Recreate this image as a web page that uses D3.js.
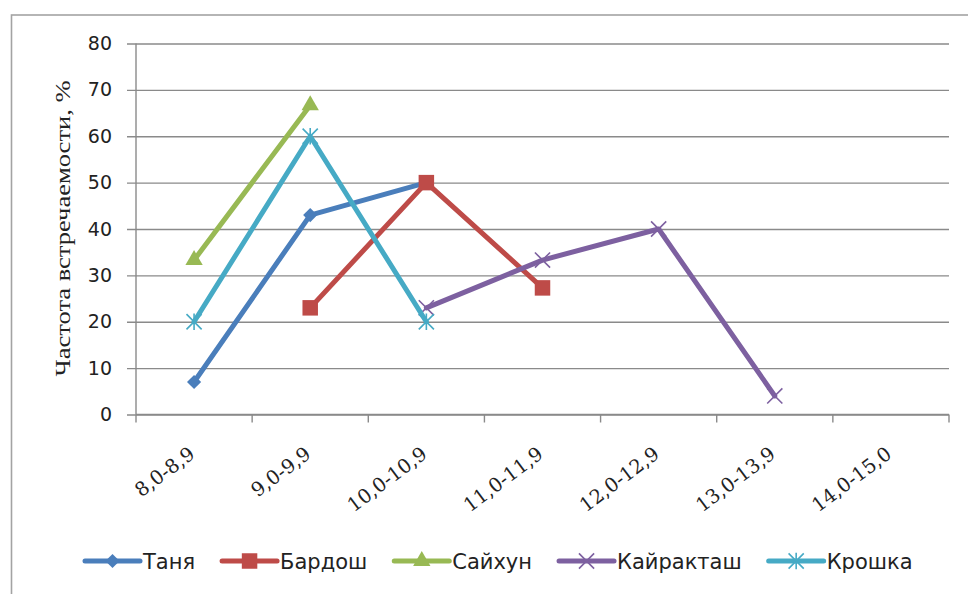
<!DOCTYPE html>
<html>
<head>
<meta charset="utf-8">
<script src="https://cdn.jsdelivr.net/npm/d3@7"></script>
<style>
  html, body { margin: 0; padding: 0; background: #fff; }
  svg { display: block; }
</style>
</head>
<body>
<svg id="chart" width="968" height="594"></svg>
<script>
// categories (length classes, cm)
const categories = ['8,0-8,9', '9,0-9,9', '10,0-10,9', '11,0-11,9', '12,0-12,9', '13,0-13,9', '14,0-15,0'];

// frequency of occurrence, %  (null = no point)
const tanya = [7, 43, 50, null, null, null, null];
const bardosh = [null, 23, 50, 27.3, null, null, null];
const saykhun = [33.3, 66.7, null, null, null, null, null];
const kayraktash = [null, null, 23, 33.3, 40, 4, null];
const kroshka = [20, 60, 20, null, null, null, null];

const seriesNames = ['Таня', 'Бардош', 'Сайхун', 'Кайракташ', 'Крошка'];
const yTicks = [0, 10, 20, 30, 40, 50, 60, 70, 80];
const yTitle = 'Частота встречаемости, %';

// custom excel-like markers
const markX = {
    draw(ctx, size)
    {
        const r = Math.sqrt(size) / 2;
        ctx.moveTo(-r, -r); ctx.lineTo(r, r);
        ctx.moveTo(r, -r); ctx.lineTo(-r, r);
    },
};
const markStar = {
    draw(ctx, size)
    {
        const r = Math.sqrt(size) / 2;
        ctx.moveTo(-r, -r); ctx.lineTo(r, r);
        ctx.moveTo(r, -r); ctx.lineTo(-r, r);
        ctx.moveTo(0, -r * 1.1); ctx.lineTo(0, r * 1.1);
    },
};

const styles = [
    { color: '#4A7EBB', type: d3.symbolSquare, size: 100, rotate: 45, filled: true },
    { color: '#BE4B48', type: d3.symbolSquare, size: 240, rotate: 0, filled: true },
    { color: '#98B954', type: d3.symbolTriangle, size: 130, rotate: 0, filled: true },
    { color: '#7D60A0', type: markX, size: 230, rotate: 0, filled: false },
    { color: '#46AAC5', type: markStar, size: 230, rotate: 0, filled: false },
];

const seriesData = [tanya, bardosh, saykhun, kayraktash, kroshka];

const svg = d3.select('#chart');
const W = 968;
const H = 594;

svg.append('rect').attr('width', W).attr('height', H).attr('fill', '#fff');

// outer chart frame (runs off the right and bottom edges)
svg.append('rect')
    .attr('x', 11.5).attr('y', 15)
    .attr('width', W + 20).attr('height', H + 20)
    .attr('fill', 'none')
    .attr('stroke', '#a3a3a3')
    .attr('stroke-width', 1.6);

const plot = { left: 136, right: 949, top: 43.5, bottom: 414.5 };

const x = d3.scaleBand()
    .domain(categories)
    .range([plot.left, plot.right])
    .padding(0);

const y = d3.scaleLinear()
    .domain([0, 80])
    .range([plot.bottom, plot.top]);

const gridColor = '#8a8a8a';

// horizontal gridlines + y ticks
const yAxis = d3.axisLeft(y)
    .tickValues(yTicks)
    .tickSize(-(plot.right - plot.left) - 9)
    .tickPadding(15)
    .tickFormat(d3.format('d'));

const gy = svg.append('g')
    .attr('transform', `translate(${plot.left - 9},0)`)
    .call(yAxis);

gy.select('.domain').remove();
gy.selectAll('.tick line')
    .attr('stroke', gridColor)
    .attr('stroke-width', 1.4);
gy.selectAll('.tick text')
    .attr('x', -(24 - 9))
    .attr('font-family', '"DejaVu Sans", sans-serif')
    .attr('font-size', 19)
    .attr('fill', '#222');

// y axis line
svg.append('line')
    .attr('x1', plot.left).attr('x2', plot.left)
    .attr('y1', plot.top).attr('y2', plot.bottom)
    .attr('stroke', gridColor)
    .attr('stroke-width', 1.4);

// x axis line and ticks at band boundaries
const bounds = categories.map((c) => x(c)).concat([x(categories[categories.length - 1]) + x.bandwidth()]);

svg.append('line')
    .attr('x1', plot.left).attr('x2', plot.right)
    .attr('y1', plot.bottom).attr('y2', plot.bottom)
    .attr('stroke', gridColor)
    .attr('stroke-width', 1.4);

svg.append('g')
    .selectAll('line')
    .data(bounds)
    .join('line')
    .attr('x1', (d) => d).attr('x2', (d) => d)
    .attr('y1', plot.bottom).attr('y2', plot.bottom + 8)
    .attr('stroke', gridColor)
    .attr('stroke-width', 1.4);

// rotated category labels
svg.append('g')
    .selectAll('text')
    .data(categories)
    .join('text')
    .attr('transform', (d) => `translate(${x(d) + x.bandwidth() / 2 + 2},${plot.bottom + 42}) rotate(-37)`)
    .attr('text-anchor', 'end')
    .attr('font-family', '"DejaVu Serif", serif')
    .attr('font-size', 19.5)
    .attr('fill', '#222')
    .text((d) => d);

// y axis title
svg.append('text')
    .attr('transform', `translate(70,${(80 + 377) / 2}) rotate(-90)`)
    .attr('text-anchor', 'middle')
    .attr('font-family', '"Liberation Serif", "Times New Roman", serif')
    .attr('font-size', 22)
    .attr('textLength', 296)
    .attr('lengthAdjust', 'spacingAndGlyphs')
    .attr('fill', '#222')
    .text(yTitle);

// series lines + markers
const line = d3.line()
    .defined((d) => d.v !== null)
    .x((d) => x(d.c) + x.bandwidth() / 2)
    .y((d) => y(d.v));

seriesData.forEach((vals, i) =>
{
    const st = styles[i];
    const pts = vals.map((v, k) => ({ c: categories[k], v }));
    const g = svg.append('g').attr('class', 'series');

    g.append('path')
        .datum(pts)
        .attr('d', line)
        .attr('fill', 'none')
        .attr('stroke', st.color)
        .attr('stroke-width', 5)
        .attr('stroke-linejoin', 'round')
        .attr('stroke-linecap', 'round');

    g.selectAll('path.mark')
        .data(pts.filter((d) => d.v !== null))
        .join('path')
        .attr('class', 'mark')
        .attr('transform', (d) => `translate(${x(d.c) + x.bandwidth() / 2},${y(d.v)}) rotate(${st.rotate})`)
        .attr('d', d3.symbol().type(st.type).size(st.size))
        .attr('fill', st.filled ? st.color : 'none')
        .attr('stroke', st.color)
        .attr('stroke-width', st.filled ? 0 : 1.6);
});

// legend
const legend = svg.append('g').attr('transform', 'translate(85,561)');
let lx = 0;
seriesNames.forEach((name, i) =>
{
    const st = styles[i];
    const item = legend.append('g').attr('transform', `translate(${lx},0)`);
    item.append('line')
        .attr('x1', 0).attr('x2', 55)
        .attr('stroke', st.color)
        .attr('stroke-width', 5)
        .attr('stroke-linecap', 'round');
    item.append('path')
        .attr('transform', `translate(27.5,0) rotate(${st.rotate})`)
        .attr('d', d3.symbol().type(st.type).size(st.size))
        .attr('fill', st.filled ? st.color : 'none')
        .attr('stroke', st.color)
        .attr('stroke-width', st.filled ? 0 : 1.6);
    const t = item.append('text')
        .attr('x', 58)
        .attr('y', 7.5)
        .attr('font-family', '"DejaVu Sans", sans-serif')
        .attr('font-size', 21)
        .attr('fill', '#222')
        .text(name);
    lx += 58 + t.node().getComputedTextLength() + 27;
});
</script>
</body>
</html>
